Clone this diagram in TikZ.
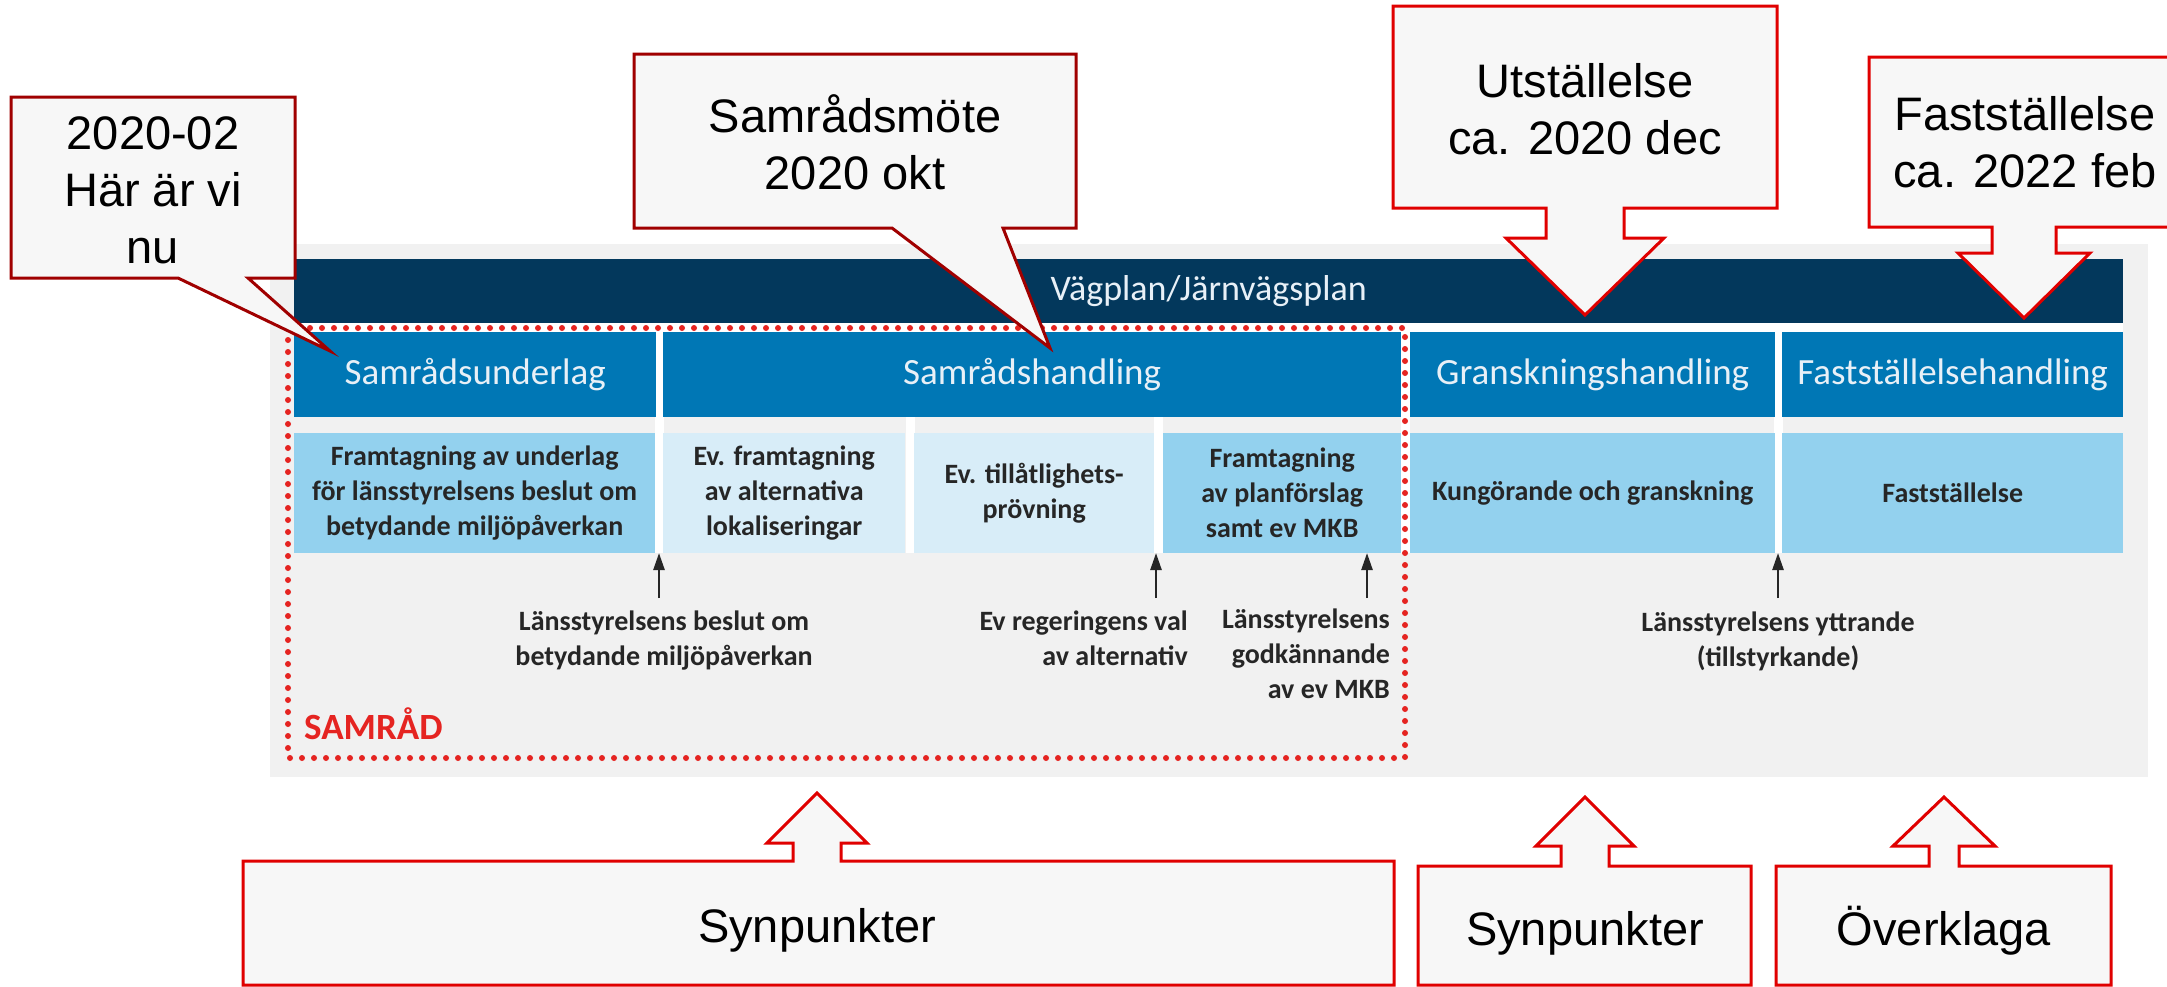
\documentclass[tikz,border=0pt]{standalone}
\usepackage{fontspec}
\setmainfont{Liberation Sans}
\newfontfamily\planfont{Carlito}
\usetikzlibrary{arrows.meta}

\definecolor{panelGray}{HTML}{F1F1F1}
\definecolor{planNavy}{HTML}{03385C}
\definecolor{planBlue}{HTML}{0077B5}
\definecolor{skyBlue}{HTML}{93D1EE}
\definecolor{paleBlue}{HTML}{D8EDF8}
\definecolor{headText}{HTML}{E8F0F7}
\definecolor{inkText}{HTML}{262626}
\definecolor{dotRed}{HTML}{E52421}
\definecolor{calloutFill}{HTML}{F7F7F7}
\definecolor{calloutDark}{HTML}{A00000}
\definecolor{calloutRed}{HTML}{E00000}

\begin{document}
\begin{tikzpicture}[x=1pt,y=-1pt,
	headbox/.style={anchor=north west,inner sep=0pt,fill=planBlue,text=headText,minimum height=85pt,font=\planfont\fontsize{37}{44}\selectfont},
	cellbox/.style={anchor=north west,inner sep=0pt,text=inkText,minimum height=120pt,align=center,font=\planfont\bfseries\fontsize{28}{35}\selectfont},
	notetext/.style={inner sep=0pt,text=inkText,font=\planfont\bfseries\fontsize{28}{35}\selectfont},
	calltext/.style={inner sep=0pt,align=center,font=\fontsize{47}{57}\selectfont},
	calldark/.style={draw=calloutDark,fill=calloutFill,line width=3pt},
	callred/.style={draw=calloutRed,fill=calloutFill,line width=3pt},
	samraddots/.style={draw=dotRed,line width=6pt,line cap=round,dash pattern=on 0pt off 12pt},
	uparrow/.style={draw=inkText,line width=2.5pt,-{Triangle[length=17pt,width=11pt]}}]
\useasboundingbox (0,0) rectangle (2167,986);

	\fill[panelGray] (270,244) rectangle (2148,777);
	\node[anchor=north west,inner sep=0pt,fill=planNavy,text=headText,minimum width=1829pt,minimum height=64pt,font=\planfont\fontsize{36}{43}\selectfont] (vp) at (294,259) {Vägplan/Järnvägsplan};

	\fill[white] (294,323) rectangle (2123,332);
	\foreach \x in {659,910,1158,1405,1778}
	{
		\fill[white] ({\x-4.5},323) rectangle ({\x+4.5},553);
	}

\newcommand\drawHead[4]{\node[headbox,minimum width=#2pt] (#4) at (#1,332) {#3};}
\newcommand\drawCell[5]{\node[cellbox,fill=#4,minimum width=#2pt] (#5) at (#1,433) {#3};}

\drawHead{294}{362}{Samrådsunderlag}{h1}
\drawHead{663}{738}{Samrådshandling}{h2}
\drawHead{1410}{365}{Granskningshandling}{h3}
\drawHead{1782}{341}{Fastställelsehandling}{h4}

\drawCell{294}{361}{Framtagning av underlag\\för länsstyrelsens beslut om\\betydande miljöpåverkan}{skyBlue}{c1}
\drawCell{663}{242}{Ev. framtagning\\av alternativa\\lokaliseringar}{paleBlue}{c2}
\drawCell{914}{240}{Ev. tillåtlighets-\\prövning}{paleBlue}{c3}
\drawCell{1163}{238}{Framtagning\\av planförslag\\samt ev MKB}{skyBlue}{c4}
\drawCell{1410}{365}{Kungörande och granskning}{skyBlue}{c5}
\drawCell{1782}{341}{Fastställelse}{skyBlue}{c6}

	\draw[samraddots] (288,328) rectangle (1405,758);
	\node[anchor=base west,inner sep=0pt,text=dotRed,font=\planfont\bfseries\fontsize{37}{44}\selectfont] (sam) at (304,739) {SAMRÅD};

	\foreach \n/\x in {1/659,2/1156,3/1367,4/1778}
	{
		\coordinate (p\n) at (\x,598);
		\coordinate (q\n) at (\x,553);
		\draw[uparrow] (p\n) -- (q\n);
	}

\node[notetext,align=center] (n1) at (664,641) {Länsstyrelsens beslut om\\betydande miljöpåverkan};
\node[notetext,align=right,anchor=east] (n2) at (1188,638) {Ev regeringens val\\av alternativ};
\node[notetext,align=right,anchor=east] (n3) at (1390,654) {Länsstyrelsens\\godkännande\\av ev MKB};
\node[notetext,align=center] (n4) at (1778,641) {Länsstyrelsens yttrande\\(tillstyrkande)};

\newcommand\drawPointer[9]{\filldraw[#1] (#6,#4) -- (#8,#9) -- (#7,#4) -- (#3,#4) -- (#3,#5) -- (#2,#5) -- (#2,#4) -- cycle;}
\newcommand\drawArrowCall[9]{\filldraw[callred] ({#5-#6},#3) -- ({#5-#6},#8) -- ({#5-#7},#8) -- (#5,#9) -- ({#5+#7},#8) -- ({#5+#6},#8) -- ({#5+#6},#3) -- (#2,#3) -- (#2,#4) -- (#1,#4) -- (#1,#3) -- cycle;}

\drawPointer{calldark}{11}{295}{278}{97}{178}{248}{330}{351}
\node[calltext] (t1) at (153,190) {2020-02\\Här är vi\\nu};
\drawPointer{calldark}{634}{1076}{228}{54}{892}{1003}{1050}{348}
\node[calltext] (t2) at (855,142) {Samrådsmöte\\2020 okt};
\drawArrowCall{1393}{1777}{208}{6}{1585}{39}{79}{238}{315}
\node[calltext] (t3) at (1585,109) {Utställelse\\ca. 2020 dec};
\drawArrowCall{1869}{2190}{227}{57}{2024}{32}{66}{253}{318}
\node[calltext] (t4) at (2025,142) {Fastställelse\\ca. 2022 feb};
\drawArrowCall{243}{1394}{861}{985}{817}{24}{50}{843}{793}
\node[calltext,anchor=base] (t5) at (817,942) {Synpunkter};
\drawArrowCall{1418}{1751}{866}{985}{1585}{24}{49}{846}{797}
\node[calltext,anchor=base] (t6) at (1585,945) {Synpunkter};
\drawArrowCall{1776}{2111}{866}{985}{1944}{15}{51}{846}{797}
\node[calltext,anchor=base] (t7) at (1944,945) {Överklaga};
\end{tikzpicture}
\end{document}
